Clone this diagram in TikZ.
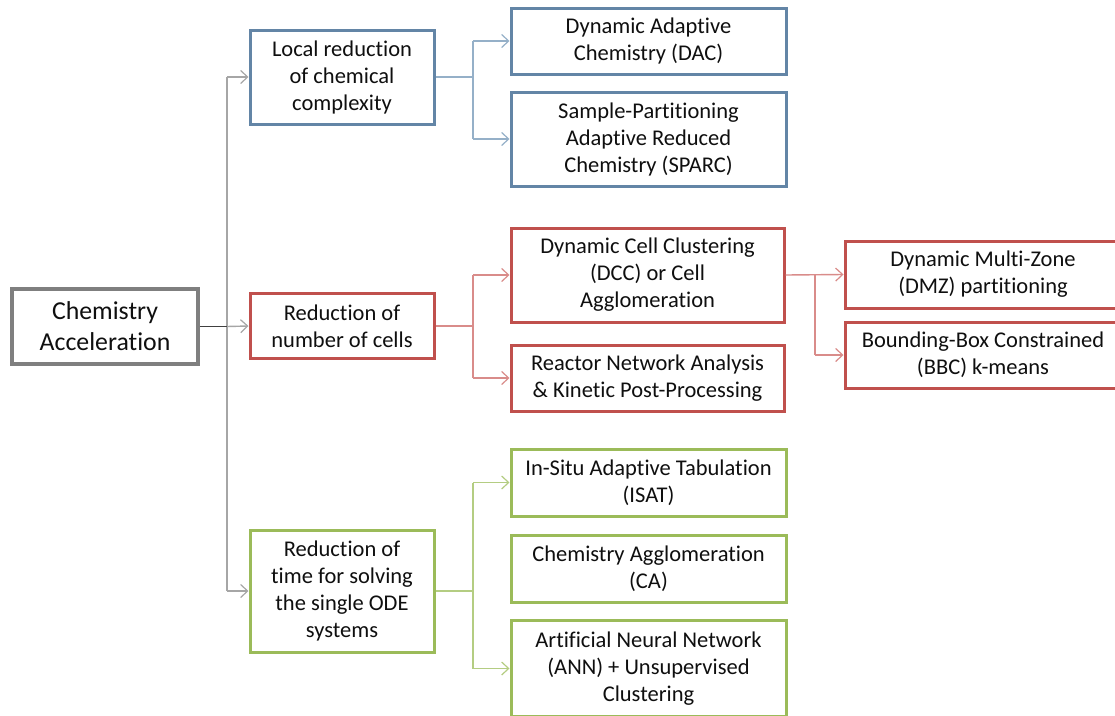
\documentclass[tikz,border=0pt]{standalone}
\usepackage{fontspec}
\setmainfont[Ligatures={NoCommon}]{Carlito}
\usetikzlibrary{arrows.meta}
\definecolor{rootB}{RGB}{127,127,127}
\definecolor{blueB}{RGB}{99,133,166}
\definecolor{blueL}{RGB}{149,176,200}
\definecolor{redB}{RGB}{192,80,77}
\definecolor{redL}{RGB}{217,140,138}
\definecolor{greenB}{RGB}{155,187,89}
\definecolor{greenL}{RGB}{180,205,130}
\definecolor{trunkC}{RGB}{166,166,166}
\definecolor{darkC}{RGB}{64,64,64}
\definecolor{txt}{RGB}{15,15,15}
\tikzset{
  box/.style={draw, fill=white, line width=3pt, inner sep=0pt, align=center,
    text=txt, font=\fontsize{22.5}{27}\selectfont},
  rootbox/.style={box, draw=rootB, line width=3.5pt, font=\fontsize{25.8}{31}\selectfont},
  bluebox/.style={box, draw=blueB},
  redbox/.style={box, draw=redB},
  greenbox/.style={box, draw=greenB},
  conn/.style={line width=1.4pt},
  tip/.style={conn, -{Straight Barb[length=7pt,width=13pt,line width=1.2pt]}},
}
\begin{document}
\begin{tikzpicture}[x=1pt, y=-1pt]
\useasboundingbox (0,0) rectangle (1115,715);

% root
\node[rootbox, minimum width=186pt, minimum height=75pt] (root) at (105,326.5)
  {Chemistry\\Acceleration};

% first level
\node[bluebox, minimum width=184pt, minimum height=94pt] (local) at (342,77)
  {Local reduction\\of chemical\\complexity};
\node[redbox, minimum width=184pt, minimum height=65pt] (cells) at (342,326)
  {Reduction of\\number of cells};
\node[greenbox, minimum width=184pt, minimum height=122pt] (time) at (342,591)
  {Reduction of\\time for solving\\the single ODE\\systems};

% second level
\node[bluebox, minimum width=275pt, minimum height=66pt] (dac) at (648.5,41)
  {Dynamic Adaptive\\Chemistry (DAC)};
\node[bluebox, minimum width=275pt, minimum height=94pt] (sparc) at (648.5,139)
  {Sample-Partitioning\\Adaptive Reduced\\Chemistry (SPARC)};
\node[redbox, minimum width=273pt, minimum height=94pt] (dcc) at (647.5,275)
  {Dynamic Cell Clustering\\(DCC) or Cell\\Agglomeration};
\node[redbox, minimum width=273pt, minimum height=66pt] (reactor) at (647.5,378)
  {Reactor Network Analysis\\\& Kinetic Post-Processing};
\node[greenbox, minimum width=275pt, minimum height=67pt] (isat) at (648.5,482.5)
  {In-Situ Adaptive Tabulation\\(ISAT)};
\node[greenbox, minimum width=275pt, minimum height=67pt] (ca) at (648.5,568.5)
  {Chemistry Agglomeration\\(CA)};
\node[greenbox, minimum width=275pt, minimum height=96pt] (ann) at (648.5,668.5)
  {Artificial Neural Network\\(ANN) + Unsupervised\\Clustering};

% third level
\node[redbox, minimum width=276pt, minimum height=67pt] (dmz) at (983,274.5)
  {Dynamic Multi-Zone\\(DMZ) partitioning};
\node[redbox, minimum width=276pt, minimum height=66pt] (bbc) at (983,355)
  {Bounding-Box Constrained\\(BBC) k-means};

% root connectors
\coordinate (t) at (227,326.5);
\draw[conn, trunkC] (t |- local.west) -- (t |- time.west);
\draw[conn, darkC] (root.east) -- (t);
\draw[tip, trunkC] (t |- local.west) -- (local.west);
\draw[tip, trunkC] (t) -- (cells.west);
\draw[tip, trunkC] (t |- time.west) -- (time.west);

% blue branch
\coordinate (b) at (473,77);
\draw[conn, blueL] (local.east) -- (b);
\draw[conn, blueL] (b |- dac.west) -- (b |- sparc.west);
\draw[tip, blueL] (b |- dac.west) -- (dac.west);
\draw[tip, blueL] (b |- sparc.west) -- (sparc.west);

% red branch
\coordinate (r) at (473,326);
\draw[conn, redL] (cells.east) -- (r);
\draw[conn, redL] (r |- dcc.west) -- (r |- reactor.west);
\draw[tip, redL] (r |- dcc.west) -- (dcc.west);
\draw[tip, redL] (r |- reactor.west) -- (reactor.west);

\coordinate (r2) at (815,275);
\draw[conn, redL] (r2) -- (r2 |- bbc.west);
\draw[tip, redL] (dcc.east) -- (dmz.west);
\draw[tip, redL] (r2 |- bbc.west) -- (bbc.west);

% green branch
\coordinate (g) at (473,591);
\draw[conn, greenL] (time.east) -- (g);
\draw[conn, greenL] (g |- isat.west) -- (g |- ann.west);
\draw[tip, greenL] (g |- isat.west) -- (isat.west);
\draw[tip, greenL] (g |- ann.west) -- (ann.west);
\end{tikzpicture}
\end{document}
